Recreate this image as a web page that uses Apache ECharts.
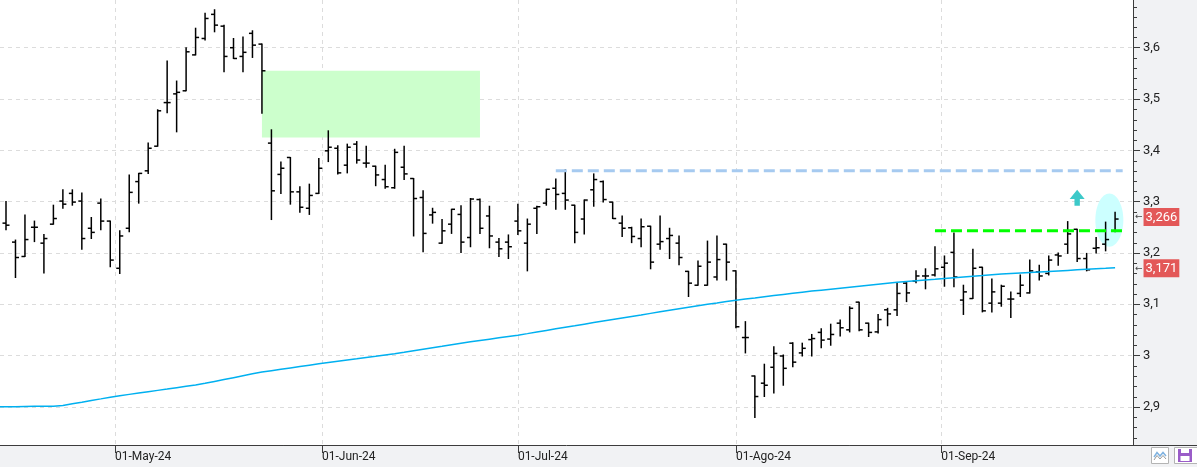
<!DOCTYPE html>
<html><head><meta charset="utf-8">
<script src="https://cdn.jsdelivr.net/npm/echarts@6/dist/echarts.min.js"></script>
<style>html,body{margin:0;padding:0;background:#fff;}#chart{width:1197px;height:467px;}</style>
</head><body><div id="chart"></div>
<script>
// ---------- data ----------
const dates = [
'2024-04-15','2024-04-16','2024-04-17','2024-04-18','2024-04-19','2024-04-22','2024-04-23','2024-04-24','2024-04-25','2024-04-26','2024-04-29','2024-04-30',
'2024-05-02','2024-05-03','2024-05-06','2024-05-07','2024-05-08','2024-05-09','2024-05-10','2024-05-13','2024-05-14','2024-05-15','2024-05-16','2024-05-17','2024-05-20','2024-05-21','2024-05-22','2024-05-23','2024-05-24','2024-05-27','2024-05-28','2024-05-29','2024-05-30','2024-05-31',
'2024-06-03','2024-06-04','2024-06-05','2024-06-06','2024-06-07','2024-06-10','2024-06-11','2024-06-12','2024-06-13','2024-06-14','2024-06-17','2024-06-18','2024-06-19','2024-06-20','2024-06-21','2024-06-24','2024-06-25','2024-06-26','2024-06-27','2024-06-28',
'2024-07-01','2024-07-02','2024-07-03','2024-07-04','2024-07-05','2024-07-08','2024-07-09','2024-07-10','2024-07-11','2024-07-12','2024-07-15','2024-07-16','2024-07-17','2024-07-18','2024-07-19','2024-07-22','2024-07-23','2024-07-24','2024-07-25','2024-07-26','2024-07-29','2024-07-30','2024-07-31',
'2024-08-01','2024-08-02','2024-08-05','2024-08-06','2024-08-07','2024-08-08','2024-08-09','2024-08-12','2024-08-13','2024-08-14','2024-08-15','2024-08-16','2024-08-19','2024-08-20','2024-08-21','2024-08-22','2024-08-23','2024-08-26','2024-08-27','2024-08-28','2024-08-29','2024-08-30',
'2024-09-02','2024-09-03','2024-09-04','2024-09-05','2024-09-06','2024-09-09','2024-09-10','2024-09-11','2024-09-12','2024-09-13','2024-09-16','2024-09-17','2024-09-18','2024-09-19','2024-09-20','2024-09-23','2024-09-24','2024-09-25','2024-09-26'
];
const open = [
3.258,3.221,3.193,3.250,3.219,3.256,3.301,3.316,3.301,3.248,3.297,3.262,
3.170,3.248,3.339,3.360,3.408,3.493,3.510,3.516,3.586,3.618,3.665,3.642,3.600,3.583,3.628,3.607,3.414,3.353,3.386,3.319,3.287,3.316,
3.399,3.404,3.371,3.412,3.375,3.369,3.343,3.327,3.367,3.345,3.308,3.274,3.219,3.256,3.275,3.230,3.304,3.272,3.221,3.221,
3.262,3.219,3.287,3.297,3.326,3.316,3.293,3.266,3.323,3.339,3.299,3.258,3.249,3.228,3.252,3.217,3.228,3.219,3.164,3.137,3.137,3.153,3.217,
3.165,3.035,2.960,2.946,2.977,2.999,3.024,3.005,3.031,3.045,3.032,3.063,3.050,3.104,3.063,3.046,3.089,3.089,3.141,3.145,3.155,3.157,
3.172,3.201,3.108,3.111,3.172,3.102,3.102,3.110,3.121,3.122,3.163,3.160,3.196,3.217,3.246,3.189,3.209,3.217,3.243
];
const high = [
3.300,3.225,3.274,3.262,3.236,3.293,3.323,3.323,3.317,3.269,3.305,3.262,
3.243,3.352,3.355,3.414,3.479,3.574,3.535,3.600,3.638,3.667,3.674,3.644,3.618,3.621,3.633,3.607,3.440,3.377,3.386,3.329,3.334,3.384,
3.438,3.409,3.412,3.417,3.408,3.369,3.371,3.402,3.408,3.345,3.321,3.287,3.265,3.285,3.292,3.306,3.305,3.291,3.228,3.235,
3.295,3.266,3.291,3.324,3.344,3.362,3.293,3.303,3.354,3.340,3.299,3.272,3.250,3.266,3.252,3.272,3.248,3.233,3.164,3.184,3.223,3.233,3.217,
3.165,3.066,2.960,2.983,3.017,3.001,3.025,3.024,3.041,3.052,3.061,3.069,3.095,3.104,3.063,3.080,3.092,3.141,3.142,3.165,3.169,3.212,
3.194,3.239,3.137,3.207,3.172,3.149,3.137,3.124,3.157,3.186,3.176,3.194,3.200,3.261,3.246,3.199,3.230,3.260,3.279
];
const low = [
3.245,3.152,3.193,3.222,3.161,3.256,3.287,3.293,3.207,3.228,3.245,3.173,
3.160,3.241,3.297,3.355,3.408,3.473,3.436,3.516,3.586,3.615,3.631,3.553,3.579,3.553,3.581,3.472,3.265,3.316,3.295,3.279,3.275,3.316,
3.378,3.354,3.356,3.375,3.367,3.331,3.326,3.326,3.343,3.233,3.202,3.258,3.219,3.238,3.201,3.212,3.238,3.210,3.193,3.189,
3.236,3.165,3.238,3.293,3.285,3.285,3.220,3.237,3.291,3.299,3.267,3.232,3.220,3.212,3.169,3.207,3.189,3.177,3.115,3.137,3.137,3.147,3.147,
3.054,3.005,2.879,2.920,2.927,2.942,2.978,2.999,2.999,3.015,3.020,3.038,3.046,3.048,3.037,3.044,3.058,3.078,3.105,3.142,3.130,3.155,
3.135,3.134,3.080,3.111,3.085,3.085,3.096,3.074,3.115,3.122,3.147,3.157,3.176,3.199,3.183,3.165,3.200,3.204,3.241
];
const close = [
3.254,3.191,3.226,3.250,3.228,3.267,3.295,3.299,3.228,3.240,3.262,3.186,
3.233,3.318,3.355,3.404,3.477,3.493,3.513,3.592,3.620,3.657,3.644,3.583,3.579,3.591,3.605,3.555,3.321,3.365,3.319,3.289,3.312,3.365,
3.406,3.356,3.406,3.381,3.375,3.352,3.329,3.396,3.354,3.306,3.238,3.279,3.243,3.285,3.221,3.305,3.248,3.233,3.208,3.212,
3.243,3.256,3.290,3.324,3.314,3.303,3.240,3.303,3.343,3.304,3.267,3.248,3.232,3.251,3.182,3.222,3.234,3.191,3.141,3.174,3.182,3.187,3.182,
3.056,3.035,2.920,2.942,3.004,2.975,2.987,3.014,3.033,3.030,3.041,3.054,3.092,3.050,3.045,3.070,3.081,3.121,3.122,3.155,3.155,3.169,
3.180,3.153,3.124,3.170,3.087,3.124,3.135,3.110,3.137,3.165,3.155,3.186,3.194,3.237,3.189,3.167,3.210,3.226,3.266
];
// moving average, one value per date; maPrevious is its value on the session before the first date (2024-04-12)
const maPrevious = 2.9000;
const ma = [
2.9000,2.9000,2.9005,2.9010,2.9010,2.9010,2.9024,2.9057,2.9089,2.9122,2.9154,2.9187,
2.9216,2.9242,2.9268,2.9294,2.9320,2.9346,2.9373,2.9399,2.9425,2.9457,2.9494,2.9531,2.9568,2.9605,2.9642,2.9676,2.9703,2.9730,2.9757,2.9784,2.9811,2.9838,
2.9863,2.9888,2.9912,2.9936,2.9961,2.9985,3.0010,3.0034,3.0061,3.0091,3.0121,3.0151,3.0180,3.0210,3.0240,3.0266,3.0292,3.0318,3.0344,3.0370,
3.0396,3.0426,3.0457,3.0488,3.0519,3.0550,3.0580,3.0611,3.0642,3.0672,3.0702,3.0732,3.0762,3.0791,3.0821,3.0851,3.0881,3.0911,3.0941,3.0971,3.0998,3.1024,3.1051,
3.1077,3.1100,3.1122,3.1145,3.1168,3.1191,3.1214,3.1235,3.1255,3.1274,3.1293,3.1312,3.1331,3.1350,3.1369,3.1388,3.1407,3.1426,3.1442,3.1457,3.1472,3.1486,
3.1501,3.1516,3.1531,3.1546,3.1560,3.1575,3.1589,3.1599,3.1609,3.1619,3.1629,3.1639,3.1649,3.1659,3.1669,3.1679,3.1689,3.1699,3.1710
];
const monthStarts = ['2024-05-01','2024-06-01','2024-07-01','2024-08-01','2024-09-01'];
const monthLabels = ['01-May-24','01-Jun-24','01-Jul-24','01-Ago-24','01-Sep-24'];
const priceTicks = [2.9,3.0,3.1,3.2,3.3,3.4,3.5,3.6];
const priceMinorTicks = [2.84,2.86,2.88,2.92,2.94,2.96,2.98,3.02,3.04,3.06,3.08,3.12,3.14,3.16,3.18,3.22,3.24,3.26,3.28,3.32,3.34,3.36,3.38,3.42,3.44,3.46,3.48,3.52,3.54,3.56,3.58,3.62,3.64,3.66,3.68];
const zoneDates = ['2024-05-23','2024-06-25'];
const zonePrices = [3.555, 3.425];
const resistanceStart = '2024-07-05';
const resistanceLevel = 3.36;
const breakoutStart = '2024-08-30';
const breakoutLevel = 3.243;
const highlightDates = ['2024-09-25','2024-09-26'];
const highlightPrices = [3.212, 3.316];
const arrowDate = '2024-09-20';
const arrowPrices = [3.292, 3.323];

// ---------- helpers ----------
const dayNum = s => Date.parse(s + 'T00:00:00Z') / 86400000;
const dayNums = dates.map(dayNum);
function dateToPos(s) {
  const d = dayNum(s);
  for (let i = 0; i < dayNums.length; i++) {
    if (dayNums[i] === d) return i;
    if (dayNums[i] > d) { const p = dayNums[i - 1]; return i - 1 + (d - p) / (dayNums[i] - p); }
  }
  return dayNums.length - 1;
}
const monthPos = monthStarts.map(dateToPos);
const idx = s => dates.indexOf(s);
const lastIdx = dates.length - 1;
const comma = (v, dp) => v.toFixed(dp).replace('.', ',');
const yFmt = v => String(Math.round(v * 10) / 10).replace('.', ',');
const ohlc = dates.map((d, i) => [i, open[i], high[i], low[i], close[i]]);
const maData = [[-1, maPrevious]].concat(ma.map((v, i) => [i, v]));
const lastClose = close[lastIdx];
const lastMa = ma[lastIdx];
const FONT = 'Roboto';
const AXIS = '#3c3c3c';
const LINE_EXT = 0.8;
const X_MIN = -0.633, X_MAX = 118.89;

const chart = echarts.init(document.getElementById('chart'), null, {renderer: 'canvas'});

const tagLabel = (txt) => ({
  show: true, position: 'end', distance: 2, opacity: 1,
  formatter: '{a|\u2190}{b|' + txt + '}',
  rich: {
    a: {color: '#444', fontSize: 9, fontFamily: 'DejaVu Sans', padding: [0, 1, 0, 0]},
    b: {color: '#fff', backgroundColor: '#e35858', fontSize: 13, fontFamily: FONT, padding: [3, 2, 2, 2]}
  }
});

chart.setOption({
  animation: false,
  backgroundColor: '#f1f2f4',
  grid: {left: 0, top: 0, right: 64, bottom: 22, show: true, backgroundColor: '#fff', borderWidth: 0, outerBoundsMode: 'none'},
  xAxis: {
    type: 'value', min: X_MIN, max: X_MAX,
    axisLine: {show: true, onZero: false, lineStyle: {color: AXIS}},
    axisTick: {show: true, customValues: monthPos, length: 8, lineStyle: {color: AXIS}},
    axisLabel: {show: true, customValues: monthPos, align: 'left', margin: 6, color: '#222', fontFamily: FONT, fontSize: 12,
      formatter: v => { const k = monthPos.findIndex(p => Math.abs(p - v) < 1e-6); return k >= 0 ? monthLabels[k] : ''; }},
    splitLine: {show: true, lineStyle: {color: '#dcdcdc', type: [4, 4]}}
  },
  yAxis: {
    type: 'value', position: 'right', min: 2.8255, max: 3.693,
    axisLine: {show: true, onZero: false, lineStyle: {color: AXIS}},
    axisTick: {show: true, customValues: priceTicks, length: 7, lineStyle: {color: AXIS}},
    axisLabel: {show: true, customValues: priceTicks, margin: 10, color: '#222', fontFamily: FONT, fontSize: 13, formatter: yFmt},
    splitLine: {show: true, lineStyle: {color: '#dcdcdc', type: [4, 4]}}
  },
  series: [
    { // background annotations: zone rectangle + highlight ellipse
      type: 'custom', z: 1, silent: true, clip: false,
      data: [[0], [1]],
      renderItem: (params, api) => {
        if (params.dataIndex === 0) {
          const a = api.coord([idx(zoneDates[0]), zonePrices[0]]);
          const b = api.coord([idx(zoneDates[1]), zonePrices[1]]);
          return {type: 'rect', shape: {x: a[0], y: a[1], width: b[0] - a[0], height: b[1] - a[1]}, style: {fill: '#ccffcc'}};
        }
        const a = api.coord([idx(highlightDates[0]), highlightPrices[1]]);
        const b = api.coord([idx(highlightDates[1]), highlightPrices[0]]);
        return {type: 'ellipse', shape: {cx: (a[0] + b[0]) / 2 - 1, cy: (a[1] + b[1]) / 2, rx: 14, ry: (b[1] - a[1]) / 2}, style: {fill: '#ccffff'}};
      }
    },
    { // OHLC bars
      type: 'custom', name: 'OHLC', z: 3, silent: true,
      dimensions: ['i', 'open', 'high', 'low', 'close'],
      encode: {x: 0, y: [1, 2, 3, 4]},
      data: ohlc,
      renderItem: (params, api) => {
        const i = api.value(0);
        const pO = api.coord([i, api.value(1)]);
        const pH = api.coord([i, api.value(2)]);
        const pL = api.coord([i, api.value(3)]);
        const pC = api.coord([i, api.value(4)]);
        const x = pH[0];
        const st = {stroke: '#000', lineWidth: 1.5};
        return {type: 'group', children: [
          {type: 'line', shape: {x1: x, y1: pH[1] - 0.5, x2: x, y2: pL[1] + 0.5}, style: st},
          {type: 'line', shape: {x1: x - 3.5, y1: pO[1], x2: x, y2: pO[1]}, style: st},
          {type: 'line', shape: {x1: x, y1: pC[1], x2: x + 3.5, y2: pC[1]}, style: st}
        ]};
      }
    },
    { // moving average
      type: 'line', name: 'MA', z: 4, silent: true, clip: true,
      data: maData, showSymbol: false, symbol: 'none',
      lineStyle: {color: '#00b0f0', width: 1.5},
      markLine: {
        silent: true, symbol: ['none', 'none'],
        lineStyle: {color: 'rgba(0,0,0,0)', width: 1, type: 'solid'},
        data: [
          {yAxis: lastClose, label: tagLabel(comma(lastClose, 3))},
          {yAxis: lastMa, label: tagLabel(comma(lastMa, 3))}
        ]
      }
    },
    { // foreground annotations: dashed levels + arrow
      type: 'custom', z: 5, silent: true, clip: false,
      data: [[0], [1], [2]],
      renderItem: (params, api) => {
        const k = params.dataIndex;
        if (k < 2) {
          const start = k === 0 ? resistanceStart : breakoutStart;
          const lvl = k === 0 ? resistanceLevel : breakoutLevel;
          const a = api.coord([idx(start), lvl]);
          const b = api.coord([lastIdx + LINE_EXT, lvl]);
          return {type: 'line', shape: {x1: a[0], y1: a[1], x2: b[0], y2: b[1]},
            style: {stroke: k === 0 ? '#a6caf0' : '#00ff00', lineWidth: 3, lineDash: [11, 5]}};
        }
        const ai = idx(arrowDate);
        const t = api.coord([ai, arrowPrices[1]]);
        const bb = api.coord([ai, arrowPrices[0]]);
        const x = t[0], hy = t[1] + 9.3;
        return {type: 'polygon', shape: {points: [[x, t[1]], [x + 7.5, hy], [x + 2.7, hy], [x + 2.7, bb[1]], [x - 2.7, bb[1]], [x - 2.7, hy], [x - 7.5, hy]]},
          style: {fill: '#3cc9c9'}};
      }
    },
    { // minor ticks of the price axis, placed through the y scale just outside the right edge of the plot
      type: 'custom', z: 20, zlevel: 0, silent: true, clip: false,
      data: priceMinorTicks.map(v => [lastIdx, v]),
      encode: {x: 0, y: 1},
      renderItem: (params, api) => {
        const p = api.coord([X_MAX, api.value(1)]);
        const y = Math.round(p[1]) + 0.5;
        return {type: 'rect', shape: {x: Math.round(p[0]), y: y - 0.5, width: 4, height: 1}, style: {fill: AXIS}};
      }
    }
  ],
  graphic: [
    {type: 'line', z: 100, shape: {x1: 1133, y1: 445.5, x2: 1197, y2: 445.5}, style: {stroke: AXIS}},
    {type: 'rect', z: 100, shape: {x: 1151.5, y: 447.5, width: 17, height: 16}, style: {fill: '#fff', stroke: '#b4b4b4'}},
    {type: 'polyline', z: 101, shape: {points: [[1154, 457], [1157, 452.5], [1160, 456], [1163, 452.5], [1166, 456]]}, style: {stroke: '#7fb2e0', lineWidth: 1.5, fill: null}},
    {type: 'polyline', z: 101, shape: {points: [[1154, 460], [1157, 455.5], [1160, 459], [1163, 455.5], [1166, 459]]}, style: {stroke: '#9a9a9a', lineWidth: 1, fill: null}},
    {type: 'rect', z: 100, shape: {x: 1174.5, y: 447.5, width: 23, height: 16}, style: {fill: '#fff', stroke: '#b4b4b4'}},
    {type: 'rect', z: 101, shape: {x: 1178, y: 449, width: 14, height: 13}, style: {fill: '#9a5cc8'}},
    {type: 'rect', z: 102, shape: {x: 1181, y: 449, width: 8, height: 4}, style: {fill: '#fff'}},
    {type: 'rect', z: 102, shape: {x: 1180.5, y: 456, width: 9, height: 5}, style: {fill: '#fff'}}
  ]
});
</script>
</body></html>
